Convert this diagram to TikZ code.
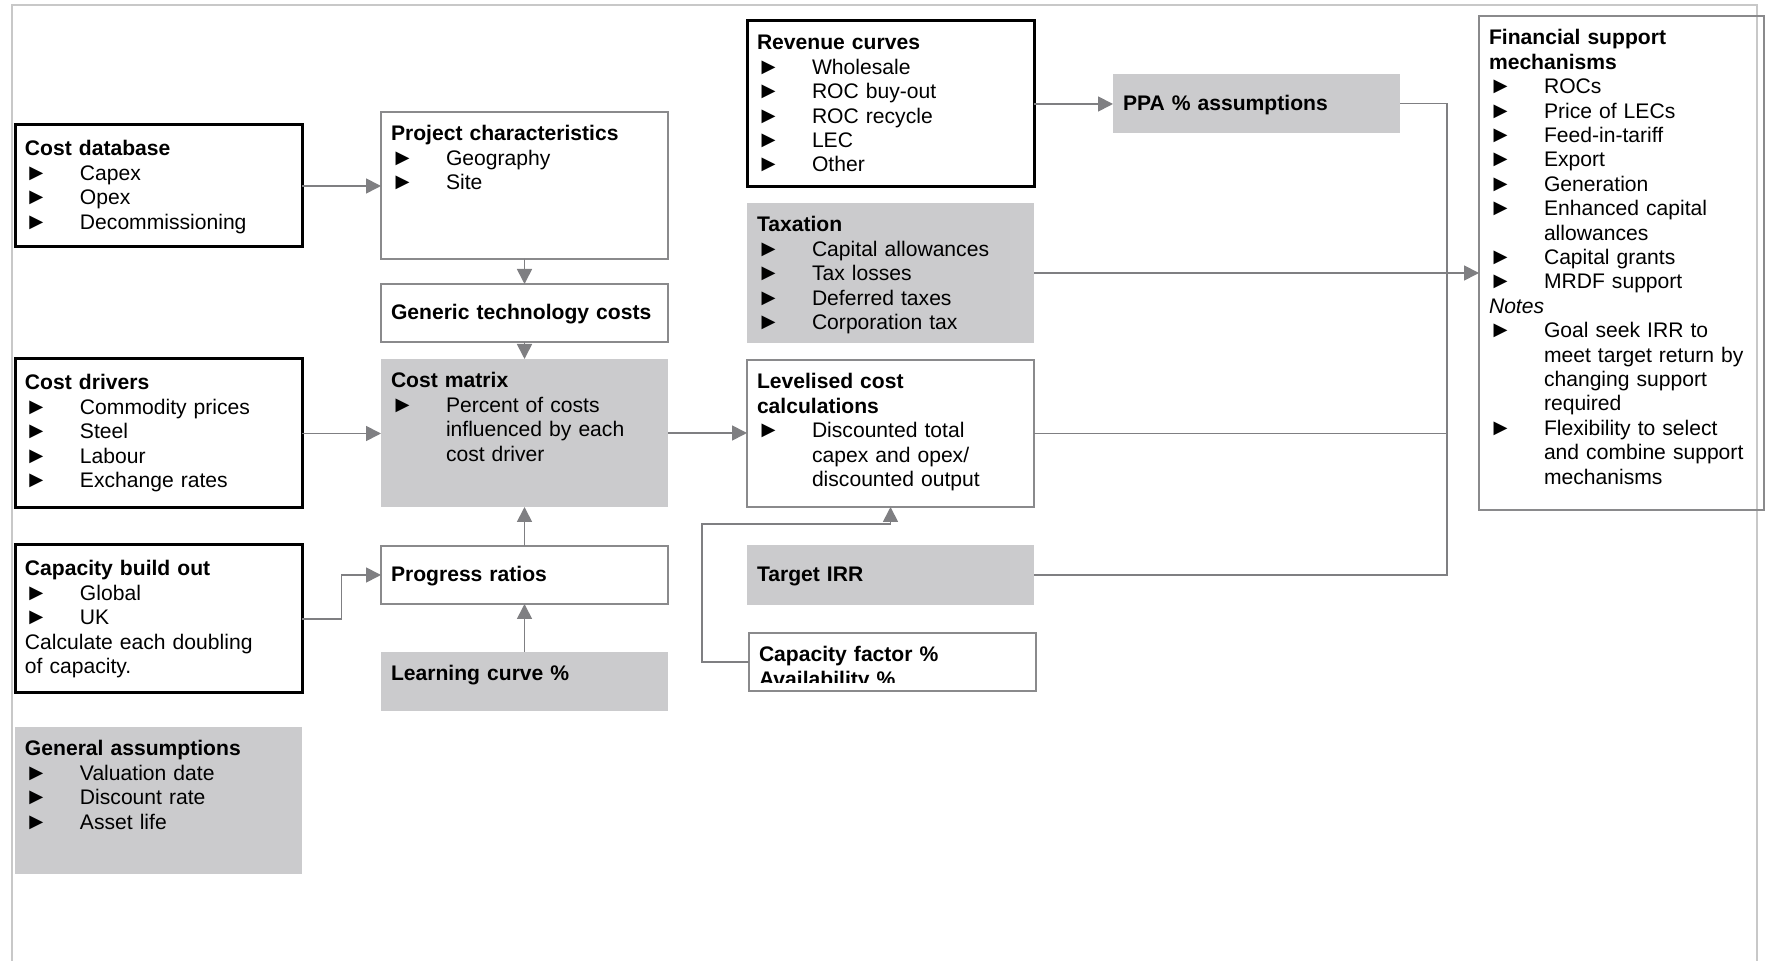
\documentclass[tikz,border=0pt]{standalone}
\usepackage{fontspec}
\setmainfont{Liberation Sans}
\usetikzlibrary{arrows.meta,calc}
\definecolor{boxgray}{RGB}{203,203,205}
\definecolor{linegray}{RGB}{138,138,140}
\definecolor{arrowgray}{RGB}{127,127,130}
\definecolor{framegray}{RGB}{200,200,200}
\newcommand{\bul}{\makebox[27.5pt][l]{\scalebox{1.1}{►}}}
\newcommand{\ind}{\hspace*{27.5pt}}

\begin{document}
\begin{tikzpicture}[x=0.5pt,y=-0.5pt,
  base/.style={anchor=north west,inner xsep=5pt,inner ysep=0pt,outer sep=0pt,align=left,text width=133.5pt,font=\fontsize{10.55pt}{12.2pt}\selectfont},
  thickbox/.style={base,draw=black,line width=1.5pt},
  thinbox/.style={base,draw=linegray,line width=0.75pt},
  greybox/.style={base,fill=boxgray},
  tall/.style={text height=14.5pt,text depth=#1},
  deep/.style={text height=15.5pt,text depth=#1},
  single/.style={text height=18pt,text depth=11pt},
  arr/.style={draw=arrowgray,line width=0.85pt,-{Triangle[length=7.5pt,width=7.5pt]}},
  link/.style={draw=arrowgray,line width=0.85pt}]
\useasboundingbox (0,0) rectangle (1767,961);
\draw[framegray,line width=1.25pt] (12,961) -- (12,5) -- (1757,5) -- (1757,961);

\node[thickbox,deep=45.5pt] (costdb) at (15,125) {\textbf{Cost database}\\\bul Capex\\\bul Opex\\\bul Decommissioning};
\node[thickbox,deep=59pt] (costdrv) at (15,359) {\textbf{Cost drivers}\\\bul Commodity prices\\\bul Steel\\\bul Labour\\\bul Exchange rates};
\node[thickbox,deep=58.5pt] (capbuild) at (15,545) {\textbf{Capacity build out}\\\bul Global\\\bul UK\\Calculate each doubling\\of capacity.};
\node[greybox,tall=59pt] (genassum) at (15,727) {\textbf{General assumptions}\\\bul Valuation date\\\bul Discount rate\\\bul Asset life};

\node[thinbox,tall=59pt] (projchar) at (381,112) {\textbf{Project characteristics}\\\bul Geography\\\bul Site};
\node[thinbox,single] (generic) at (381,284) {\textbf{Generic technology costs}};
\node[greybox,tall=59.5pt] (costmat) at (381,359) {\textbf{Cost matrix}\\\bul Percent of costs\\\ind influenced by each\\\ind cost driver};
\node[thinbox,single] (progress) at (381,546) {\textbf{Progress ratios}};
\node[greybox,tall=15pt] (learning) at (381,652) {\textbf{Learning curve \%}};

\node[thickbox,tall=68.5pt] (revenue) at (747,21) {\textbf{Revenue curves}\\\bul Wholesale\\\bul ROC buy-out\\\bul ROC recycle\\\bul LEC\\\bul Other};
\node[greybox,tall=55.5pt] (taxation) at (747,203) {\textbf{Taxation}\\\bul Capital allowances\\\bul Tax losses\\\bul Deferred taxes\\\bul Corporation tax};
\node[thinbox,tall=59pt] (levelised) at (747,360) {\textbf{Levelised cost}\\\textbf{calculations}\\\bul Discounted total\\\ind capex and opex/\\\ind discounted output};
\node[greybox,text height=18.5pt,text depth=11.5pt] (targetirr) at (747,545) {\textbf{Target IRR}};
\begin{scope}
\clip (740,625) rectangle (1045,683);
\node[base,tall=14.5pt] (capfactor) at (749,633) {\textbf{Capacity factor \%}\\\textbf{Availability \%}};
\end{scope}
\draw[linegray,line width=0.75pt] (capfactor.north west) rectangle (capfactor.south east);

\node[greybox,text height=18.25pt,text depth=11.25pt] (ppa) at (1113,74) {\textbf{PPA \% assumptions}};
\node[thinbox,text width=132.5pt,tall=232.5pt] (financial) at (1479,16) {\textbf{Financial support}\\\textbf{mechanisms}\\\bul ROCs\\\bul Price of LECs\\\bul Feed-in-tariff\\\bul Export\\\bul Generation\\\bul Enhanced capital\\\ind allowances\\\bul Capital grants\\\bul MRDF support\\\textit{Notes}\\\bul Goal seek IRR to\\\ind meet target return by\\\ind changing support\\\ind required\\\bul Flexibility to select\\\ind and combine support\\\ind mechanisms};

\draw[arr] (costdb.east) -- (costdb.east -| projchar.west);
\draw[arr] (projchar.south) -- (generic.north);
\draw[arr] (generic.south) -- (costmat.north);
\draw[arr] (costdrv.east) -- (costdrv.east -| costmat.west);
\draw[arr] (capbuild.east) -- ++(39.5,0) |- (progress.west);
\draw[arr] (progress.north) -- (costmat.south);
\draw[arr] (learning.north) -- (progress.south);
\draw[arr] (costmat.east) -- (costmat.east -| levelised.west);
\draw[arr] (revenue.east) -- (revenue.east -| ppa.west);
\coordinate (bus) at (1447,0);
\draw[link] (ppa.east) -| (bus |- targetirr.east) -- (targetirr.east);
\draw[link] (levelised.east) -- (levelised.east -| bus);
\draw[arr] (taxation.east) -- (taxation.east -| financial.west);
\draw[arr] (capfactor.west) -- ++(-47,0) |- ($(levelised.south)+(0,17)$) -- (levelised.south);
\end{tikzpicture}
\end{document}
